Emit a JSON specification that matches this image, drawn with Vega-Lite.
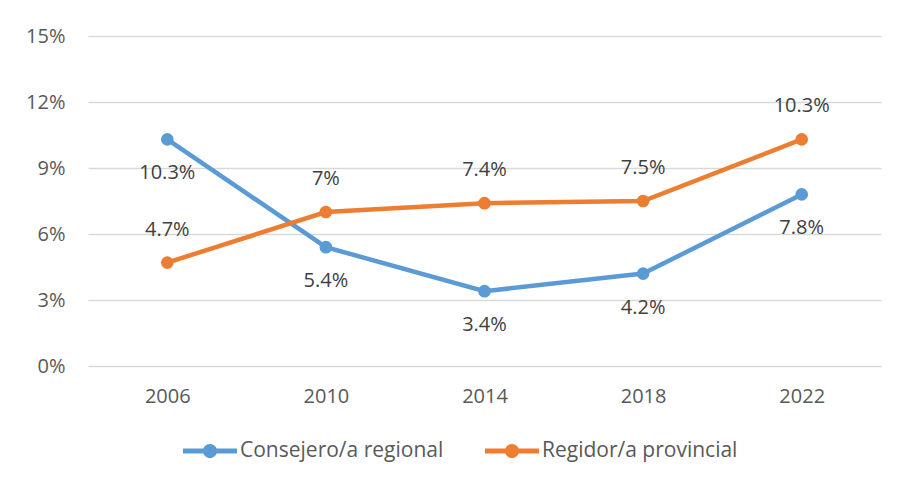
{
  "$schema": "https://vega.github.io/schema/vega-lite/v6.json",
  "width": 793,
  "height": 330,
  "autosize": "none",
  "padding": {"left": 88, "top": 36, "right": 16, "bottom": 118},
  "background": "white",
  "config": {
    "font": "Open Sans",
    "view": {"stroke": null},
    "axis": {"labelFont": "Open Sans", "labelFontSize": 20, "labelColor": "#595959", "domain": false, "ticks": false}
  },
  "data": {"values": [
    {"year": "2006", "series": "Consejero/a regional", "v": 0.103},
    {"year": "2010", "series": "Consejero/a regional", "v": 0.054},
    {"year": "2014", "series": "Consejero/a regional", "v": 0.034},
    {"year": "2018", "series": "Consejero/a regional", "v": 0.042},
    {"year": "2022", "series": "Consejero/a regional", "v": 0.078},
    {"year": "2006", "series": "Regidor/a provincial", "v": 0.047},
    {"year": "2010", "series": "Regidor/a provincial", "v": 0.07},
    {"year": "2014", "series": "Regidor/a provincial", "v": 0.074},
    {"year": "2018", "series": "Regidor/a provincial", "v": 0.075},
    {"year": "2022", "series": "Regidor/a provincial", "v": 0.103}
  ]},
  "encoding": {
    "x": {"field": "year", "type": "ordinal", "scale": {"type": "point", "padding": 0.5},
          "axis": {"title": null, "labelAngle": 0, "labelPadding": 20, "grid": false}},
    "y": {"field": "v", "type": "quantitative", "scale": {"domain": [0, 0.15], "nice": false},
          "axis": {"title": null, "format": ".0%", "values": [0, 0.03, 0.06, 0.09, 0.12, 0.15], "grid": true, "gridColor": "#D9D9D9", "gridWidth": 1.3, "labelPadding": 23}}
  },
  "layer": [
    {
      "mark": {"type": "line", "strokeWidth": 4.5},
      "encoding": {
        "color": {"field": "series", "type": "nominal",
          "scale": {"domain": ["Consejero/a regional", "Regidor/a provincial"], "range": ["#5B9BD5", "#ED7D31"]},
          "legend": {"title": null, "orient": "none", "direction": "horizontal", "legendX": 95, "legendY": 388,
            "labelFont": "Open Sans", "labelFontSize": 21, "labelColor": "#595959", "labelOffset": 3, "labelLimit": 0, "columnPadding": 41,
            "symbolType": "M -1 -0.09 H 1 V 0.09 H -1 Z M 0.26 0 A 0.26 0.26 0 1 1 -0.26 0 A 0.26 0.26 0 1 1 0.26 0 Z",
            "symbolSize": 2916, "symbolStrokeWidth": 0,
            "encode": {"symbols": {"update": {"fill": {"scale": "color", "field": "value"}, "strokeWidth": {"value": 0}}}}}
        }
      }
    },
    {
      "mark": {"type": "point", "filled": true, "size": 160, "opacity": 1},
      "encoding": {"color": {"field": "series", "type": "nominal", "legend": null}}
    },
    {
      "transform": [{"filter": "datum.series == 'Consejero/a regional'"}],
      "mark": {"type": "text", "dy": 34, "fontSize": 20, "color": "#404040", "font": "Open Sans"},
      "encoding": {"text": {"field": "v", "type": "quantitative", "format": ".1~%"}}
    },
    {
      "transform": [{"filter": "datum.series == 'Regidor/a provincial'"}],
      "mark": {"type": "text", "dy": -33, "fontSize": 20, "color": "#404040", "font": "Open Sans"},
      "encoding": {"text": {"field": "v", "type": "quantitative", "format": ".1~%"}}
    }
  ]
}
